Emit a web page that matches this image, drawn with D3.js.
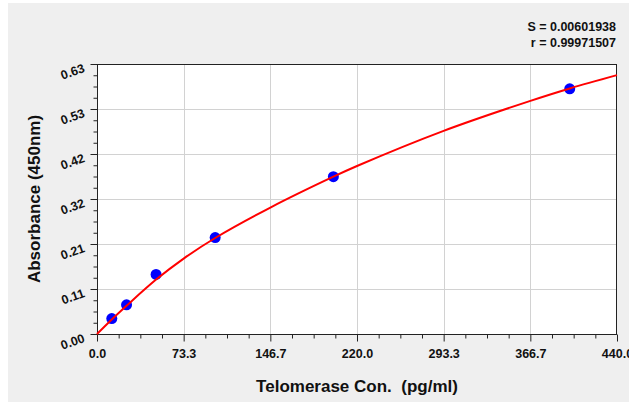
<!DOCTYPE html>
<html><head><meta charset="utf-8">
<script src="https://cdn.jsdelivr.net/npm/d3@7"></script>
<style>body{margin:0;background:#fff}svg{display:block;font-family:"Liberation Sans",Arial,sans-serif}</style>
</head><body><svg id="c" width="629" height="402"></svg>
<script>
// ---- data ----
const concentrations = [12.5, 25, 50, 100, 200, 400];
const absorbances    = [0.036, 0.068, 0.139, 0.225, 0.367, 0.572];
const curveX = [0, 12.5, 25, 50, 73.3, 100, 146.7, 200, 220, 293.3, 366.7, 400, 440];
const curveY = [0, 0.034, 0.066, 0.127, 0.176, 0.224, 0.295, 0.367, 0.392, 0.474, 0.544, 0.573, 0.604];
const xTickLabels = ["0.0", "73.3", "146.7", "220.0", "293.3", "366.7", "440.0"];
const yTickLabels = ["0.00", "0.11", "0.21", "0.32", "0.42", "0.53", "0.63"];
const statLines = ["S = 0.00601938", "r = 0.99971507"];
const xTitle = "Telomerase Con.  (pg/ml)";
const yTitle = "Absorbance (450nm)";
const xMax = 440, yMax = 0.63;

// ---- layout ----
const W = 629, H = 402;
const L = 97, R = 617, T = 64, B = 334;
const svg = d3.select("#c");

svg.append("rect").attr("x", 8).attr("y", 3).attr("width", W - 8).attr("height", H - 3).attr("fill", "#efefef");
svg.append("rect").attr("x", L).attr("y", T).attr("width", R - L).attr("height", B - T).attr("fill", "#fff");

const x = d3.scaleLinear().domain([0, xMax]).range([L, R]);
const y = d3.scaleLinear().domain([0, yMax]).range([B, T]);

const xMajor = d3.range(7).map(i => xMax * i / 6);
const yMajor = d3.range(7).map(i => yMax * i / 6);
const xMinor = d3.range(25).map(i => xMax * i / 24).filter((d, i) => i % 4 !== 0);
const yMinor = d3.range(25).map(i => yMax * i / 24).filter((d, i) => i % 4 !== 0);

// grid
const grid = svg.append("g").attr("stroke", "#d2d2d2").attr("stroke-width", 1);
grid.selectAll("line.v").data(xMajor.slice(1, -1)).join("line")
  .attr("x1", d => Math.round(x(d)) + 0.5).attr("x2", d => Math.round(x(d)) + 0.5)
  .attr("y1", T).attr("y2", B);
grid.selectAll("line.h").data(yMajor.slice(1, -1)).join("line")
  .attr("y1", d => Math.round(y(d)) + 0.5).attr("y2", d => Math.round(y(d)) + 0.5)
  .attr("x1", L).attr("x2", R);

// axes
const fontTick = "bold 12.5px 'Liberation Sans', Arial, sans-serif";
const gx = svg.append("g").attr("transform", `translate(0,${B + 0.5})`)
  .call(d3.axisBottom(x).tickValues(xMajor).tickSize(7).tickSizeOuter(0)
    .tickFormat((d, i) => xTickLabels[i]));
gx.select(".domain").remove();
gx.selectAll("text").attr("y", 23).attr("dy", 0).style("font", fontTick).attr("fill", "#111");
gx.selectAll("line").attr("stroke", "#222");
const gxm = svg.append("g").attr("transform", `translate(0,${B + 0.5})`)
  .call(d3.axisBottom(x).tickValues(xMinor).tickSize(4).tickSizeOuter(0).tickFormat(""));
gxm.select(".domain").remove();
gxm.selectAll("line").attr("stroke", "#222");

const gy = svg.append("g").attr("transform", `translate(${L + 0.5},0)`)
  .call(d3.axisLeft(y).tickValues(yMajor).tickSize(7).tickSizeOuter(0)
    .tickFormat((d, i) => yTickLabels[i]));
gy.select(".domain").remove();
gy.selectAll("text").attr("x", 0).attr("y", 0).attr("dy", 0)
  .attr("text-anchor", "end").attr("transform", "translate(-12,7) rotate(-20)")
  .style("font", fontTick).attr("fill", "#111");
gy.selectAll("line").attr("stroke", "#222");
const gym = svg.append("g").attr("transform", `translate(${L + 0.5},0)`)
  .call(d3.axisLeft(y).tickValues(yMinor).tickSize(4).tickSizeOuter(0).tickFormat(""));
gym.select(".domain").remove();
gym.selectAll("line").attr("stroke", "#222");

// plot border
svg.append("rect").attr("x", L + 0.5).attr("y", T + 0.5).attr("width", R - L - 1).attr("height", B - T)
  .attr("fill", "none").attr("stroke", "#222").attr("stroke-width", 1);

// points
svg.append("g").selectAll("circle").data(concentrations).join("circle")
  .attr("cx", d => x(d)).attr("cy", (d, i) => y(absorbances[i])).attr("r", 5.5).attr("fill", "#0000ff");

// fitted curve
const line = d3.line().x(d => x(d[0])).y(d => y(d[1])).curve(d3.curveCatmullRom.alpha(0.5));
svg.append("path").datum(curveX.map((d, i) => [d, curveY[i]]))
  .attr("d", line).attr("fill", "none").attr("stroke", "#ff0000").attr("stroke-width", 2);

// stats
svg.append("g").selectAll("text").data(statLines).join("text")
  .attr("x", 616).attr("y", (d, i) => 31 + i * 16).attr("text-anchor", "end")
  .style("font", "bold 12.5px 'Liberation Sans', Arial, sans-serif").attr("fill", "#111").text(d => d);

// titles
svg.append("text").attr("x", (L + R) / 2).attr("y", 392).attr("text-anchor", "middle")
  .style("font", "bold 17px 'Liberation Sans', Arial, sans-serif").style("white-space", "pre")
  .attr("fill", "#111").text(xTitle);
svg.append("text").attr("transform", `translate(40,${(T + B) / 2}) rotate(-90)`).attr("text-anchor", "middle")
  .style("font", "bold 17px 'Liberation Sans', Arial, sans-serif").attr("fill", "#111").text(yTitle);
</script></body></html>
